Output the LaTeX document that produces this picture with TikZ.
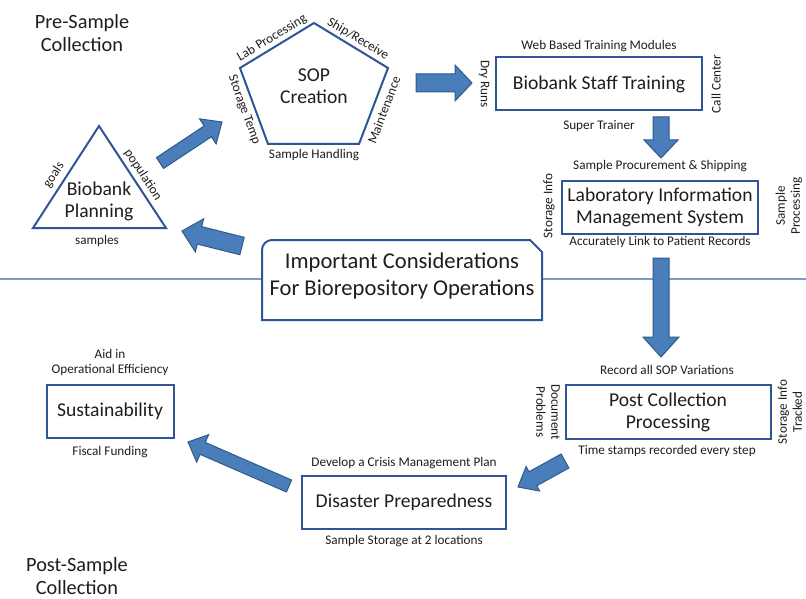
\documentclass[tikz,border=0pt]{standalone}
\usepackage{fontspec}
\setmainfont{Carlito}
\usetikzlibrary{calc}
\definecolor{boxblue}{HTML}{2F5597}
\definecolor{arrfill}{HTML}{4A7EBB}
\definecolor{arrline}{HTML}{2E5A8C}
\definecolor{sepline}{HTML}{7A9CC8}
\definecolor{txt}{HTML}{1E1E1E}
\newcommand{\blockarr}[5]{%
  \coordinate (ba-c) at ($(#2)!#5!(#1)$);
  \draw[blockarrow] ($(#1)!#3!90:(#2)$) -- ($(ba-c)!#3!90:(#2)$) -- ($(ba-c)!#4!90:(#2)$) -- (#2) -- ($(ba-c)!#4!-90:(#2)$) -- ($(ba-c)!#3!-90:(#2)$) -- ($(#1)!#3!-90:(#2)$) -- cycle;}
\tikzset{
  blockarrow/.style={fill=arrfill, draw=arrline, line width=1pt, line join=miter},
  mainbox/.style={draw=boxblue, line width=2pt, fill=white, text=txt, font=\fontsize{19.6}{22}\selectfont, align=center, inner sep=0pt},
  maintext/.style={text=txt, font=\fontsize{19.6}{22}\selectfont, align=center, inner sep=0pt},
  titletext/.style={text=txt, font=\fontsize{20.3}{23}\selectfont, align=center, inner sep=0pt},
  lab/.style={text=txt, font=\fontsize{13.2}{15}\selectfont, align=center, inner sep=0pt},
  outline/.style={draw=boxblue, line width=2pt, line join=miter},
  big/.style={text=txt, font=\fontsize{22.6}{27}\selectfont, align=center, inner sep=0pt}
}
\begin{document}
\begin{tikzpicture}[x=1pt,y=-1pt]
\useasboundingbox[fill=white] (0,0) rectangle (806,599);
% separator line
\coordinate (sepL) at (0,279);
\coordinate (sepR) at (806,279);
\draw[sepline, line width=1.3pt] (sepL) -- (sepR);

% titles
\node[titletext] (pre) at (82,33) {Pre-Sample\\Collection};
\node[titletext] (post) at (77,576) {Post-Sample\\Collection};

% triangle: Biobank Planning
\coordinate (t1) at (99,126);
\coordinate (t2) at (33,228);
\coordinate (t3) at (166,228);
\draw[outline] (t1) -- (t2) -- (t3) -- cycle;
\node[maintext] (plan) at (99,201) {Biobank\\Planning};
\node[lab, rotate=57] (goals) at (54,175) {goals};
\node[lab, rotate=-57] (popu) at (143,175) {population};
\node[lab] (samp) at (97,241) {samples};

% pentagon: SOP Creation
\coordinate (p1) at (314,23);
\coordinate (p2) at (388,68);
\coordinate (p3) at (359,144);
\coordinate (p4) at (268,144);
\coordinate (p5) at (240,68);
\draw[outline] (p1) -- (p2) -- (p3) -- (p4) -- (p5) -- cycle;
\node[maintext] (sop) at (314,86) {SOP\\Creation};
\node[lab, rotate=31] (labp) at (272,38) {Lab Processing};
\node[lab, rotate=-31] (ship) at (358,39) {Ship/Receive};
\node[lab, rotate=69] (maint) at (384,110) {Maintenance};
\node[lab, rotate=-70] (stemp) at (244,110) {Storage Temp};
\node[lab] (shand) at (314,155) {Sample Handling};

% Biobank Staff Training
\node[mainbox, minimum width=206pt, minimum height=53pt] (staff) at (599,84) {Biobank Staff Training};
\node[lab] (web) at (599,46) {Web Based Training Modules};
\node[lab] (super) at (599,126) {Super Trainer};
\node[lab, rotate=-90] (dry) at (484,84) {Dry Runs};
\node[lab, rotate=90] (call) at (716,84) {Call Center};

% LIMS
\node[mainbox, minimum width=196pt, minimum height=53pt] (lims) at (660,207) {Laboratory Information\\Management System};
\node[lab] (proc) at (660,166) {Sample Procurement \& Shipping};
\node[lab] (link) at (660,242) {Accurately Link to Patient Records};
\node[lab, rotate=90] (sinfo) at (549,206) {Storage Info};
\node[lab, rotate=90] (sproc) at (789,206) {Sample\\Processing};

% Important considerations
\coordinate (i1) at (262,320);
\coordinate (i2) at (262,250);
\coordinate (i3) at (272,240);
\coordinate (i4) at (530,240);
\coordinate (i5) at (542,252);
\coordinate (i6) at (542,320);
\draw[draw=boxblue, line width=2pt, fill=white, line join=miter] (i1) -- (i2) .. controls (262,244.5) and (266.5,240) .. (i3) -- (i4) -- (i5) -- (i6) -- cycle;
\node[big] (imp) at (402,276) {Important Considerations\\For Biorepository Operations};

% Post Collection Processing
\node[mainbox, minimum width=205pt, minimum height=54pt] (postc) at (668,412) {Post Collection\\Processing};
\node[lab] (rec) at (667,370) {Record all SOP Variations};
\node[lab] (time) at (667,451) {Time stamps recorded every step};
\node[lab, rotate=-90] (doc) at (548,412) {Document\\Problems};
\node[lab, rotate=90] (track) at (790,412) {Storage Info\\Tracked};

% Disaster Preparedness
\node[mainbox, minimum width=204pt, minimum height=53pt] (dis) at (404,502) {Disaster Preparedness};
\node[lab] (crisis) at (404,463) {Develop a Crisis Management Plan};
\node[lab] (twoloc) at (404,541) {Sample Storage at 2 locations};

% Sustainability
\node[mainbox, minimum width=127pt, minimum height=53pt] (sus) at (110,411) {Sustainability};
\node[lab] (aid) at (110,362) {Aid in\\Operational Efficiency};
\node[lab] (fisc) at (110,452) {Fiscal Funding};

% arrows
\coordinate (a1s) at (160,163); \coordinate (a1e) at (222,122);
\coordinate (a2s) at (416,83);  \coordinate (a2e) at (472,83);
\coordinate (a3s) at (661,117); \coordinate (a3e) at (661,158);
\coordinate (a4s) at (661,258); \coordinate (a4e) at (661,357);
\coordinate (a5s) at (565,461); \coordinate (a5e) at (518,487);
\coordinate (a6s) at (289,486); \coordinate (a6e) at (188,442);
\coordinate (a7s) at (242,246); \coordinate (a7e) at (182,231);
\blockarr{a1s}{a1e}{6.5pt}{15pt}{17pt}
\blockarr{a2s}{a2e}{9pt}{18pt}{17pt}
\blockarr{a3s}{a3e}{8pt}{17pt}{18pt}
\blockarr{a4s}{a4e}{8pt}{18pt}{20pt}
\blockarr{a5s}{a5e}{8pt}{14pt}{17pt}
\blockarr{a6s}{a6e}{6.5pt}{15pt}{16pt}
\blockarr{a7s}{a7e}{9pt}{17pt}{18pt}
\end{tikzpicture}
\end{document}
